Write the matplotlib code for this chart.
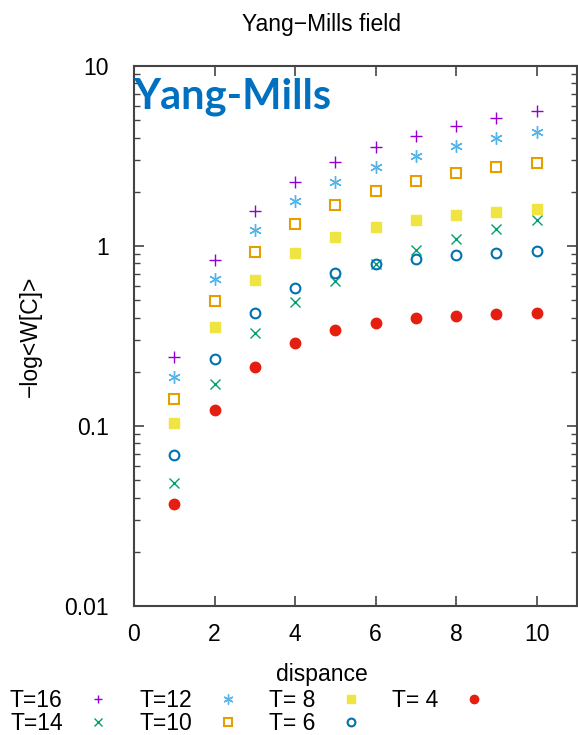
import numpy as np
import matplotlib
matplotlib.use("Agg")
import matplotlib.pyplot as plt
from matplotlib.ticker import LogLocator, NullFormatter

plt.rcParams['font.family'] = ['Liberation Sans', 'DejaVu Sans']

# data
distance = [1, 2, 3, 4, 5, 6, 7, 8, 9, 10]
t16 = [0.241, 0.839, 1.56, 2.28, 2.92, 3.53, 4.08, 4.64, 5.16, 5.65]
t14 = [0.048, 0.171, 0.327, 0.487, 0.642, 0.795, 0.95, 1.10, 1.25, 1.39]
t12 = [0.187, 0.653, 1.22, 1.77, 2.26, 2.74, 3.16, 3.58, 3.97, 4.32]
t10 = [0.142, 0.495, 0.926, 1.33, 1.70, 2.02, 2.30, 2.54, 2.75, 2.90]
t8 = [0.104, 0.356, 0.647, 0.91, 1.12, 1.28, 1.40, 1.49, 1.55, 1.60]
t6 = [0.0687, 0.235, 0.423, 0.582, 0.705, 0.795, 0.85, 0.895, 0.918, 0.935]
t4 = [0.0369, 0.122, 0.214, 0.289, 0.341, 0.375, 0.396, 0.41, 0.419, 0.425]

labels = ['T=16', 'T=14', 'T=12', 'T=10', 'T= 8', 'T= 6', 'T= 4']
series = [t16, t14, t12, t10, t8, t6, t4]
colors = ['#9400d3', '#009e73', '#56b4e9', '#e69f00', '#f0e442', '#0072b2', '#e51e10']
markers = ['+', 'x', (6, 2, 0), 's', 's', 'o', 'o']
filled = [True, True, True, False, True, False, True]
sizes = [8, 7.5, 9, 7, 7.5, 7, 7.5]

xticks = [0, 2, 4, 6, 8, 10]
yticks = [0.01, 0.1, 1, 10]
yticklabels = ['0.01', '0.1', '1', '10']

FS = 16.5

fig = plt.figure(figsize=(5.78, 7.35), dpi=100)
ax = fig.add_axes([134 / 578, 1 - 606 / 735, 443 / 578, 540 / 735])

for y, lab, c, m, f, ms in zip(series, labels, colors, markers, filled, sizes):
    if f:
        ax.plot(distance, y, linestyle='none', marker=m, color=c,
                markersize=ms, markeredgewidth=1.0, label=lab)
    else:
        ax.plot(distance, y, linestyle='none', marker=m, color=c,
                markerfacecolor='none', markersize=ms, markeredgewidth=1.5,
                label=lab)

ax.set_yscale('log')
ax.set_xlim(0, 11)
ax.set_ylim(0.01, 10)
ax.set_xticks(xticks)
ax.set_yticks(yticks)
ax.set_yticklabels(yticklabels)
ax.yaxis.set_minor_locator(LogLocator(base=10, subs=np.arange(2, 10)))
ax.yaxis.set_minor_formatter(NullFormatter())
ax.tick_params(which='both', direction='in', top=True, right=True,
               labelsize=FS, color='#444444')
ax.tick_params(which='major', length=7, width=1.2)
ax.tick_params(which='minor', length=4, width=1.0)
ax.tick_params(axis='y', pad=18)
ax.tick_params(axis='x', pad=12)
for s in ax.spines.values():
    s.set_color('#444444')
    s.set_linewidth(1.5)

ax.set_ylabel('\u2212log<W[C]>', fontsize=FS)
ax.yaxis.set_label_coords(-0.208, 0.5)

fig.text(322 / 578, 1 - 25 / 735, 'Yang\u2212Mills field', ha='center',
         va='center', fontsize=FS)
fig.text(322 / 578, 1 - 674 / 735, 'dispance', ha='center', va='center',
         fontsize=FS)
fig.text(133 / 578, 1 - 97 / 735, 'Yang-Mills', ha='left', va='center',
         fontsize=30, fontweight='bold', color='#0070c0',
         family=['Lato', 'Open Sans', 'DejaVu Sans'])

fig.legend(loc='upper left', bbox_to_anchor=(10 / 578, 1 - 689 / 735), ncol=4,
           markerfirst=False, frameon=False, fontsize=FS, handlelength=1.0,
           handletextpad=1.05, columnspacing=1.3, labelspacing=0.0,
           borderaxespad=0, borderpad=0, markerscale=0.8)

fig.savefig('out.png', dpi=100)
